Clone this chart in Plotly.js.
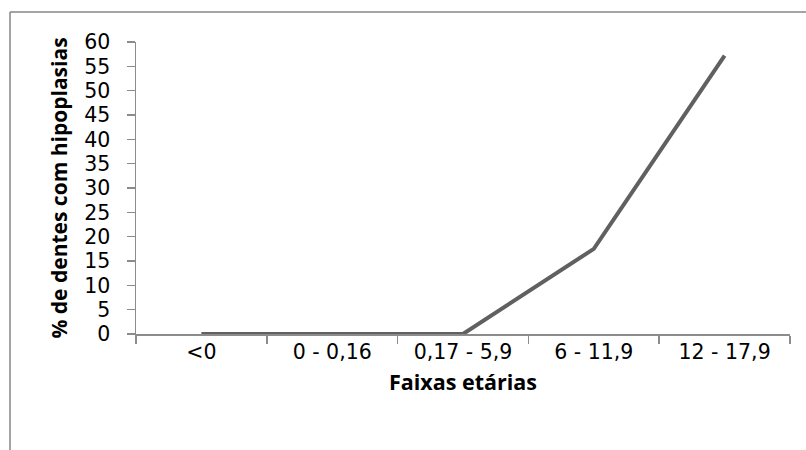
<!DOCTYPE html>
<html>
<head>
<meta charset="utf-8">
<script src="https://cdn.plot.ly/plotly-3.0.1.min.js"></script>
<style>html,body{margin:0;padding:0;background:#fff;}#chart{width:806px;height:450px;}</style>
</head>
<body>
<div id="chart"></div>
<script>
const categories = ["<0", "0 - 0,16", "0,17 - 5,9", "6 - 11,9", "12 - 17,9"];
const values = [0, 0, 0, 17.5, 57.2];
const yTicks = [0, 5, 10, 15, 20, 25, 30, 35, 40, 45, 50, 55, 60];
const xTitle = "Faixas etárias";
const yTitle = "% de dentes com hipoplasias";

const tickFontFamily = "'DejaVu Sans', sans-serif";
const titleFontFamily = "'Open Sans', 'Noto Sans', sans-serif";
const axisColor = "#8c8c8c";

const trace = {
  x: categories,
  y: values,
  type: "scatter",
  mode: "lines",
  line: {color: "#606060", width: 4},
  hoverinfo: "skip"
};

const L = 136, R = 16, T = 42, B = 116;
const W = 806 - L - R, H = 450 - T - B;
const px = v => (v - L) / W;
const py = v => (450 - B - v) / H;

const layout = {
  width: 806, height: 450,
  margin: {l: L, r: R, t: T, b: B, pad: 0},
  paper_bgcolor: "#fff", plot_bgcolor: "#fff",
  showlegend: false,
  font: {family: tickFontFamily, size: 21, color: "#000"},
  xaxis: {
    type: "category",
    range: [-0.5, categories.length - 0.5],
    tickson: "boundaries",
    ticks: "outside", ticklen: 8, tickcolor: axisColor, tickwidth: 1.5,
    showline: true, linecolor: axisColor, linewidth: 1.5,
    showgrid: false, zeroline: false,
    tickfont: {family: tickFontFamily, size: 20.5, color: "#000"},
    ticklabelstandoff: -1,
    title: {text: xTitle, font: {family: titleFontFamily, size: 21.5, color: "#000", weight: "bold"}, standoff: 12}
  },
  yaxis: {
    range: [0, 60],
    tickmode: "array", tickvals: yTicks, ticktext: yTicks.map(String),
    ticks: "outside", ticklen: 8, tickcolor: axisColor, tickwidth: 1.5,
    showline: true, linecolor: axisColor, linewidth: 1.5,
    showgrid: false, zeroline: false,
    tickfont: {family: tickFontFamily, size: 20.5, color: "#000"},
    ticklabelstandoff: 12,
    title: {text: yTitle, font: {family: titleFontFamily, size: 21, color: "#000", weight: "bold"}, standoff: 11}
  },
  shapes: [
    {type: "line", xref: "paper", yref: "paper", x0: px(10), x1: px(820), y0: py(12), y1: py(12), line: {color: "#868686", width: 1.5}},
    {type: "line", xref: "paper", yref: "paper", x0: px(10), x1: px(10), y0: py(12), y1: py(470), line: {color: "#868686", width: 1.5}}
  ]
};

Plotly.newPlot("chart", [trace], layout, {displayModeBar: false, staticPlot: true});
</script>
</body>
</html>
